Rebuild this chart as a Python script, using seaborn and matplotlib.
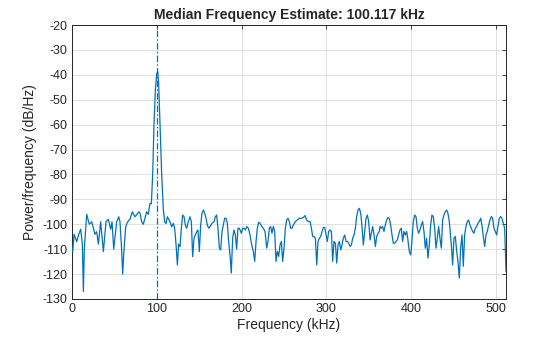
import matplotlib
matplotlib.use("Agg")
import matplotlib.pyplot as plt
import seaborn as sns
import pandas as pd

freq_khz = [0.0, 0.8, 2.4, 5.5, 8.0, 10.2, 12.2, 13.4, 14.5, 17.3, 20.4, 23.2, 27.1, 29.1, 31.1, 33.8,
            37.0, 40.1, 42.9, 45.6, 47.2, 49.2, 52.7, 55.1, 56.6, 58.5, 59.8, 61.0, 63.3, 65.7, 68.4,
            71.2, 74.3, 79.0, 80.2, 82.2, 84.1, 86.1, 88.1, 90.0, 92.0, 93.6, 95.2, 96.7, 98.3, 99.9,
            101.1, 102.2, 103.8, 105.8, 107.7, 109.3, 110.9, 112.5, 114.0, 115.6, 117.6, 119.5, 121.1,
            122.7, 124.3, 125.8, 127.4, 129.0, 130.5, 132.1, 133.7, 135.3, 137.2, 139.2, 140.8, 142.3,
            143.9, 145.5, 147.1, 148.6, 150.2, 151.8, 153.3, 154.9, 156.5, 158.1, 159.6, 161.2, 162.8,
            165.1, 167.5, 169.1, 170.6, 172.2, 173.8, 175.4, 176.9, 178.5, 180.1, 181.7, 183.2, 184.8,
            186.4, 187.9, 189.5, 191.1, 192.7, 194.2, 195.8, 197.4, 199.8, 201.3, 202.9, 204.5, 206.1,
            208.0, 210.0, 212.0, 213.9, 215.5, 217.1, 218.6, 220.2, 221.8, 223.8, 225.7, 227.7, 229.7,
            231.2, 232.8, 234.4, 235.9, 237.5, 239.1, 240.7, 242.2, 243.8, 245.4, 247.0, 248.5, 250.1,
            251.7, 253.2, 254.8, 256.4, 258.0, 259.5, 261.1, 263.5, 265.8, 268.2, 270.6, 272.9, 274.9,
            276.8, 278.8, 280.8, 282.4, 283.9, 285.5, 287.1, 288.7, 290.2, 291.8, 293.4, 295.0, 296.5,
            298.1, 299.7, 301.2, 302.8, 304.4, 306.0, 307.5, 309.1, 310.7, 312.3, 313.8, 315.4, 317.0,
            318.5, 320.1, 321.7, 323.3, 324.8, 326.4, 328.0, 329.6, 331.1, 332.7, 334.3, 335.8, 337.4,
            339.0, 340.6, 342.1, 343.7, 345.3, 346.9, 348.4, 350.0, 351.6, 353.2, 354.7, 356.3, 357.9,
            359.4, 361.0, 362.6, 363.3, 364.9, 366.4, 368.0, 369.6, 371.2, 372.7, 374.3, 375.9, 377.5,
            379.0, 380.6, 382.2, 383.7, 385.3, 386.9, 388.5, 390.0, 391.6, 393.2, 394.8, 396.3, 397.9,
            399.5, 401.0, 402.6, 404.2, 405.8, 407.3, 408.9, 410.5, 412.1, 413.6, 415.2, 416.8, 418.3,
            419.9, 421.5, 423.1, 424.6, 426.2, 427.8, 429.4, 430.9, 432.5, 434.1, 435.7, 437.2, 438.8,
            440.4, 442.0, 443.5, 445.1, 447.5, 449.0, 450.6, 452.2, 453.8, 455.3, 456.9, 458.5, 460.1,
            461.6, 463.2, 464.8, 466.3, 467.9, 469.5, 471.1, 472.6, 474.2, 475.8, 477.4, 478.9, 480.5,
            482.1, 483.6, 485.2, 486.8, 488.4, 489.9, 491.5, 493.1, 494.7, 496.2, 497.8, 499.4, 501.0,
            502.5, 504.1, 505.7, 507.2, 508.8, 510.4, 512.0]

psd_db = [-110, -111, -104, -107, -104, -102, -108, -127, -110, -96, -100, -99, -104, -103, -108, -99,
          -111, -99, -98, -102, -99, -110, -99, -97, -99, -110, -120, -112, -101, -99, -98,
          -95, -97, -95, -95.6, -99, -100, -97.5, -95, -96, -91.6, -91.8, -79.6, -60, -46, -39.5,
          -38.8, -43.5, -60, -80, -94, -99, -99.7, -97, -98, -99, -101, -99.6, -101.6,
          -108, -116.3, -108, -109, -101.6, -96.3, -96.9, -100.3, -101.6, -99, -97, -99, -113,
          -105.6, -104.3, -103, -102.3, -111, -100.3, -95.6, -94.3, -95.6, -97.6, -100.3, -101.6, -101,
          -99.6, -99, -97, -96.3, -101.6, -109.6, -110.3, -103, -100.3, -97.6, -97.6, -99.6, -107,
          -112.3, -119.6, -105.6, -102.3, -104.3, -110, -101.6, -101.6, -103.6, -101.6, -101.6, -102.3, -100.9,
          -101.6, -104.3, -108.3, -110.9, -114.9, -106.9, -101.6, -99.2, -99.6, -100.9, -101.6, -102.9, -109.6,
          -106.9, -101.6, -100.9, -103.6, -100.9, -102.9, -114.9, -110.9, -112.9, -108.3, -106.9, -114.9, -109.6,
          -101.6, -98.3, -97.6, -98.9, -101.6, -101.6, -100.3, -98.9, -98.3, -97.6, -97.6, -97.3, -96.5,
          -98.3, -98.9, -98.9, -101.6, -104.9, -104.9, -105.6, -116.3, -106.9, -105.6, -104.9, -102.9, -101.3,
          -101.3, -104.3, -106.9, -102.9, -102.3, -102.9, -114.9, -106.9, -107.6, -115.6, -108.3, -106.9, -110.3,
          -108.3, -105.6, -104.3, -106.9, -106.9, -107.6, -108.9, -108.3, -105.6, -104.3, -101.6, -96.9, -94.3,
          -93.6, -95.6, -100.9, -108.3, -102.9, -97.6, -96.3, -98.9, -106.3, -103.6, -100.9, -104.3, -108.9,
          -104.9, -103.6, -102.9, -100.9, -101.6, -100.9, -102.9, -100.3, -98.3, -97.3, -97.6, -100.3, -104.3,
          -107.6, -107.6, -106.9, -106.3, -104.3, -102.3, -101.6, -106.9, -102.9, -104.3, -102.9, -106.3, -110.9,
          -112.3, -106.9, -98.9, -96.3, -96.9, -101.6, -103.6, -102.3, -100.3, -98.9, -102.9, -109.6, -105.6,
          -113.6, -108.3, -100.3, -96.3, -96.9, -101.6, -109.6, -105.6, -100.9, -105.6, -109.6, -98.3, -96.3,
          -94.9, -94.3, -95.6, -98.9, -108.3, -116.3, -105.6, -104.9, -110.9, -114.9, -121.6, -109.6, -104.3,
          -116.9, -104.3, -100.9, -98.9, -98.3, -100.3, -101.6, -102.9, -103.6, -101.6, -100.9, -99.6, -98.9,
          -97.6, -100.3, -104.9, -108.9, -104.3, -102.9, -100.3, -98.3, -96.9, -97.6, -101.6, -102.9, -104.3,
          -100.9, -97.6, -96.9, -97.6, -99.6, -101.6, -119]

median_freq = 100.117
x_ticks = [0, 100, 200, 300, 400, 500]
y_ticks = list(range(-130, -19, 10))
title_text = "Median Frequency Estimate: 100.117 kHz"
x_label = "Frequency (kHz)"
y_label = "Power/frequency (dB/Hz)"

sns.set_theme(style="white")
plt.rcParams["font.family"] = ["Liberation Sans", "DejaVu Sans"]
plt.rcParams["axes.unicode_minus"] = False

df = pd.DataFrame({"freq": freq_khz, "psd": psd_db})

fig = plt.figure(figsize=(5.6, 3.37), dpi=100)
ax = fig.add_axes([0.1286, 0.1128, 0.775, 0.813])

line_color = "#0072BD"
sns.lineplot(data=df, x="freq", y="psd", ax=ax, color=line_color, linewidth=0.9,
             estimator=None, sort=False, zorder=3)
ax.axvline(median_freq, color=line_color, linestyle=(0, (5, 2, 1, 2)), linewidth=0.9, zorder=4)

ax.set_xlim(0, 512)
ax.set_ylim(-130, -20)
ax.set_xticks(x_ticks)
ax.set_yticks(y_ticks)
ax.grid(True, color="#DCDCDC", linewidth=0.6)
ax.set_axisbelow(True)
for s in ax.spines.values():
    s.set_color("#262626")
    s.set_linewidth(0.7)
    s.set_visible(True)
ax.tick_params(direction="in", length=3, width=0.6, top=True, right=True,
               labelsize=9, colors="#262626", pad=3)
ax.set_xlabel(x_label, fontsize=10, color="#262626", labelpad=2)
ax.set_ylabel(y_label, fontsize=10, color="#262626", labelpad=4)
ax.set_title(title_text, fontsize=10, fontweight="bold", color="#262626", pad=4)

fig.savefig("out.png", dpi=100)
